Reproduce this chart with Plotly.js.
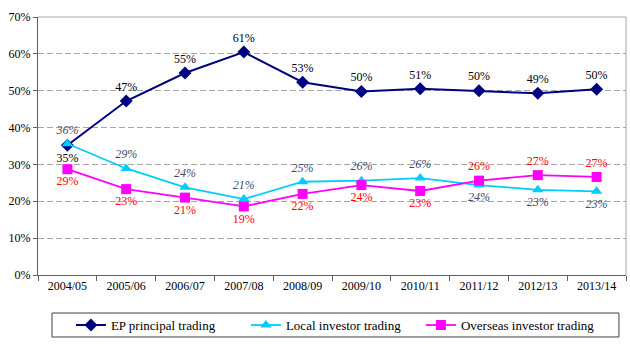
<!DOCTYPE html>
<html>
<head>
<meta charset="utf-8">
<script src="https://cdn.plot.ly/plotly-3.0.1.min.js"></script>
<style>html,body{margin:0;padding:0;background:#fff}#chart{width:630px;height:350px}</style>
</head>
<body>
<div id="chart"></div>
<script>
const years = ["2004/05","2005/06","2006/07","2007/08","2008/09","2009/10","2010/11","2011/12","2012/13","2013/14"];
const epPrincipal = [35.2, 47.2, 54.8, 60.5, 52.3, 49.8, 50.5, 50.0, 49.3, 50.4];
const localInvestor = [35.6, 28.9, 23.8, 20.6, 25.3, 25.6, 26.3, 24.4, 23.1, 22.7];
const overseasInvestor = [28.7, 23.3, 21.0, 18.6, 22.0, 24.4, 22.8, 25.6, 27.1, 26.6];
const epLabels = ["35%","47%","55%","61%","53%","50%","51%","50%","49%","50%"];
const localLabels = ["36%","29%","24%","21%","25%","26%","26%","24%","23%","23%"];
const overseasLabels = ["29%","23%","21%","19%","22%","24%","23%","26%","27%","27%"];
const epPos = ["bottom center","top center","top center","top center","top center","top center","top center","top center","top center","top center"];
const localPos = ["top center","top center","top center","top center","top center","top center","top center","bottom center","bottom center","bottom center"];
const overseasPos = ["bottom center","bottom center","bottom center","bottom center","bottom center","bottom center","bottom center","top center","top center","top center"];

const serif = "Times New Roman, Liberation Serif, DejaVu Serif, serif";
const traces = [
  {x: years, y: epPrincipal, name: "EP principal trading", type: "scatter", mode: "lines+markers+text",
   line: {color: "#000080", width: 2}, marker: {symbol: "diamond", size: 10, color: "#000080"},
   text: epLabels, textposition: epPos, textfont: {family: serif, size: 12, color: "#000000"}, cliponaxis: false},
  {x: years, y: localInvestor, name: "Local investor trading", type: "scatter", mode: "lines+markers+text",
   line: {color: "#00CCFF", width: 1.8}, marker: {symbol: "triangle-up", size: 10, color: "#00CCFF"},
   text: localLabels, textposition: localPos, textfont: {family: serif, size: 12, color: "#3F4A6E", style: "italic"}, cliponaxis: false},
  {x: years, y: overseasInvestor, name: "Overseas investor trading", type: "scatter", mode: "lines+markers+text",
   line: {color: "#FF00FF", width: 1.8}, marker: {symbol: "square", size: 10, color: "#FF00FF"},
   text: overseasLabels, textposition: overseasPos, textfont: {family: serif, size: 12, color: "#FF0000"}, cliponaxis: false}
];

const layout = {
  width: 630, height: 350,
  margin: {l: 38, r: 4, t: 17, b: 75},
  paper_bgcolor: "#ffffff", plot_bgcolor: "#ffffff",
  font: {family: serif, size: 12, color: "#000000"},
  showlegend: true,
  legend: {orientation: "h", x: 0.056, xanchor: "left", y: -0.194, yanchor: "middle",
           font: {family: serif, size: 13, color: "#000000"}, bgcolor: "rgba(0,0,0,0)", borderwidth: 0, itemwidth: 30,
           entrywidth: 130, entrywidthmode: "pixels"},
  xaxis: {type: "category", range: [-0.5, 9.5], showgrid: false, zeroline: false,
          showline: true, linecolor: "#606060", linewidth: 1,
          ticks: "outside", tickson: "boundaries", ticklen: 5, tickcolor: "#606060",
          tickfont: {family: serif, size: 12, color: "#000000"}, fixedrange: true},
  yaxis: {range: [0, 70], dtick: 10, ticksuffix: "%", showgrid: true, gridcolor: "#A6A6A6", griddash: "6px,3px", gridwidth: 1,
          zeroline: false, showline: true, linecolor: "#606060", linewidth: 1,
          ticks: "outside", ticklen: 4, tickcolor: "#606060",
          tickfont: {family: serif, size: 12, color: "#000000"}, fixedrange: true},
  shapes: [
    {type: "line", xref: "paper", yref: "paper", x0: 0, x1: 1, y0: 1, y1: 1, line: {color: "#A6A6A6", width: 1}},
    {type: "line", xref: "paper", yref: "paper", x0: 1, x1: 1, y0: 0, y1: 1, line: {color: "#A6A6A6", width: 1}},
    {type: "rect", xref: "paper", yref: "paper", x0: 0.0238, x1: 0.988, y0: -0.2403, y1: -0.1473, line: {color: "#404040", width: 1}}
  ]
};
Plotly.newPlot("chart", traces, layout, {displayModeBar: false, staticPlot: true});
</script>
</body>
</html>
